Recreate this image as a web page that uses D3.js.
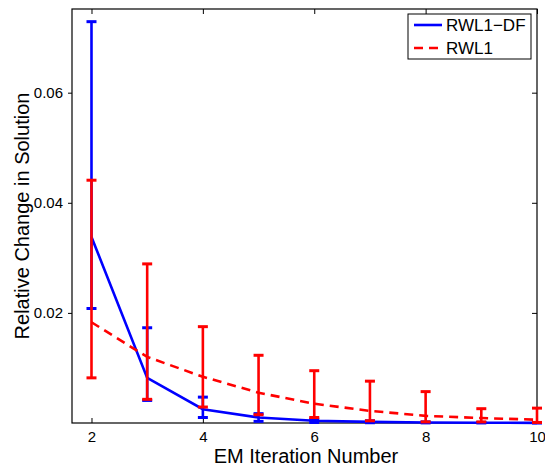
<!DOCTYPE html>
<html>
<head>
<meta charset="utf-8">
<script src="https://cdn.jsdelivr.net/npm/d3@7"></script>
<style>
  body { margin: 0; background: #fff; }
  text { font-family: "Liberation Sans", Arial, sans-serif; fill: #000; }
</style>
</head>
<body>
<div id="chart"></div>
<script>
// iterações EM
const iteracoes = [2, 3, 4, 5, 6, 7, 8, 9, 10];

// RWL1-DF: média, limite inferior e superior
const dfMedia = [0.0338, 0.0082, 0.0025, 0.0010, 0.0004, 0.0002, 0.0001, 0.00005, 0.00003];
const dfInf   = [0.0208, 0.0041, 0.0010, 0.0003, 0.0001, 0.00005, 0.00002, 0.00001, 0.00001];
const dfSup   = [0.0729, 0.0173, 0.0047, 0.0017, 0.0007, 0.0004, 0.0002, 0.0001, 0.00006];

// RWL1
const rwMedia = [0.0183, 0.0120, 0.0084, 0.0055, 0.0035, 0.0022, 0.0013, 0.0009, 0.0006];
const rwInf   = [0.0082, 0.0043, 0.0029, 0.0015, 0.0010, 0.0004, 0.0002, 0.0002, 0.0001];
const rwSup   = [0.0441, 0.0289, 0.0175, 0.0123, 0.0095, 0.0076, 0.0057, 0.0026, 0.0027];

const xTicks = [2, 4, 6, 8, 10];
const yTicks = [0.02, 0.04, 0.06];

const series = [
  { nome: "RWL1\u2212DF", cor: "#0000ff", dash: null, media: dfMedia, inf: dfInf, sup: dfSup },
  { nome: "RWL1", cor: "#ff0000", dash: "9,6", media: rwMedia, inf: rwInf, sup: rwSup }
];

const width = 545, height = 466;
const margins = { top: 9, right: 8, bottom: 43, left: 72 };
const iw = width - margins.left - margins.right;
const ih = height - margins.top - margins.bottom;

const svg = d3.select("#chart").append("svg")
    .attr("width", width)
    .attr("height", height);

const x = d3.scaleLinear().domain([1.65, 10]).range([0, iw]);
const y = d3.scaleLinear().domain([0, 0.0752]).range([ih, 0]);

const g = svg.append("g")
    .attr("transform", `translate(${margins.left}, ${margins.top})`);

// eixos
const tickLen = 5;
g.append("g").attr("transform", `translate(0,${ih})`)
    .call(d3.axisBottom(x).tickValues(xTicks).tickSizeInner(-tickLen).tickSizeOuter(0).tickPadding(8).tickFormat(d3.format("d")));
g.append("g")
    .call(d3.axisTop(x).tickValues(xTicks).tickSizeInner(-tickLen).tickSizeOuter(0).tickFormat(""));
g.append("g")
    .call(d3.axisLeft(y).tickValues(yTicks).tickSizeInner(4).tickSizeOuter(0).tickPadding(5).tickFormat(d3.format(".2f")));
g.append("g").attr("transform", `translate(${iw},0)`)
    .call(d3.axisRight(y).tickValues(yTicks).tickSizeInner(-tickLen).tickSizeOuter(0).tickFormat(""));

g.selectAll(".domain").remove();
g.selectAll(".tick line").attr("stroke", "#000").attr("stroke-width", 1);
g.selectAll(".tick text").attr("font-size", "15px").attr("font-family", "Liberation Sans, Arial, sans-serif");

g.append("rect")
    .attr("width", iw).attr("height", ih)
    .attr("fill", "none").attr("stroke", "#000").attr("stroke-width", 1.2);

// séries
const plot = g.append("g");
const linha = d3.line().x(d => x(d.it)).y(d => y(d.v));

series.forEach(s => {
  const dados = iteracoes.map((it, i) => ({ it, v: s.media[i], lo: s.inf[i], hi: s.sup[i] }));
  const grp = plot.append("g");

  grp.append("path")
      .datum(dados)
      .attr("fill", "none")
      .attr("stroke", s.cor)
      .attr("stroke-width", 2.6)
      .attr("stroke-dasharray", s.dash)
      .attr("d", linha);

  const barras = grp.selectAll("g.bar").data(dados).enter().append("g");
  barras.append("line")
      .attr("x1", d => x(d.it)).attr("x2", d => x(d.it))
      .attr("y1", d => y(d.lo)).attr("y2", d => y(d.hi))
      .attr("stroke", s.cor).attr("stroke-width", 2.6);
  [d => y(d.lo), d => y(d.hi)].forEach(fy => {
    barras.append("line")
        .attr("x1", d => x(d.it) - 5).attr("x2", d => x(d.it) + 5)
        .attr("y1", fy).attr("y2", fy)
        .attr("stroke", s.cor).attr("stroke-width", 3);
  });
});

// legenda
const leg = g.append("g").attr("transform", `translate(${408 - margins.left}, ${14 - margins.top})`);
leg.append("rect")
    .attr("width", 123).attr("height", 45)
    .attr("fill", "#fff").attr("stroke", "#000").attr("stroke-width", 1);
series.forEach((s, i) => {
  const ly = 11 + i * 23;
  leg.append("line")
      .attr("x1", 6).attr("x2", 34).attr("y1", ly).attr("y2", ly)
      .attr("stroke", s.cor).attr("stroke-width", 2.6)
      .attr("stroke-dasharray", s.dash);
  leg.append("text")
      .attr("x", 38).attr("y", ly + 6)
      .attr("font-size", "17px")
      .text(s.nome);
});

// títulos dos eixos
svg.append("text")
    .attr("x", 306).attr("y", 463)
    .attr("text-anchor", "middle")
    .attr("font-size", "20px")
    .text("EM Iteration Number");

svg.append("text")
    .attr("transform", "translate(29, 216) rotate(-90)")
    .attr("text-anchor", "middle")
    .attr("font-size", "20px")
    .text("Relative Change in Solution");
</script>
</body>
</html>
